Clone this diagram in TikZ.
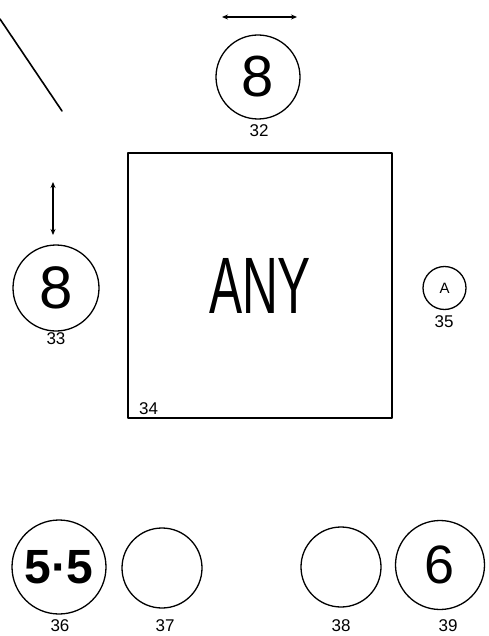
\documentclass[tikz,border=0pt]{standalone}
\usepackage{fontspec}
\setmainfont{Liberation Sans}
\newfontfamily\handfont[FakeStretch=0.62]{Liberation Sans}
\usetikzlibrary{arrows.meta}

\begin{document}
\begin{tikzpicture}[yscale=-1, x=1pt, y=1pt, line join=round, line cap=round]
% Colour and style definitions
\definecolor{ink}{rgb}{0,0,0}
\tikzset{
  seat/.style={draw=ink, circle, line width=1.3pt, inner sep=0pt},
  tag/.style={font=\fontsize{17}{17}\selectfont, text=ink, inner sep=0pt},
  move/.style={draw=ink, line width=1.5pt, {Stealth[length=6pt,width=5pt]}-{Stealth[length=6pt,width=5pt]}},
}
% End of definitions
\useasboundingbox (0,0) rectangle (489,636);
\draw[color=ink, line width=1.6pt] (0,19) -- (62,111);
% table
\node[draw=ink, line width=1.8pt, minimum width=264pt, minimum height=265pt, inner sep=0pt,
      font=\handfont\fontsize{80}{80}\selectfont] (area34) at (260,285.5) {ANY};
\node[tag, anchor=south west] (n34) at (139,415) {34};
% seats
\node[seat, minimum size=84pt, font=\fontsize{58}{58}\selectfont] (s32) at (258,77) {8};
\node[seat, minimum size=86pt, font=\fontsize{60}{60}\selectfont] (s33) at (56,288) {8};
\node[seat, minimum size=43pt, font=\fontsize{15}{15}\selectfont] (s35) at (444.5,288) {A};
\node[seat, minimum size=94pt, font=\fontsize{48}{48}\selectfont\bfseries] (s36) at (59,567) {5\textperiodcentered5};
\node[seat, minimum size=80pt] (s37) at (162,568) {};
\node[seat, minimum size=80pt] (s38) at (341,567) {};
\node[seat, minimum size=89pt, font=\fontsize{54}{54}\selectfont] (s39) at (440,565) {6};
% seat numbers
\node[tag] (n32) at (259,131) {32};
\node[tag] (n33) at (56,339) {33};
\node[tag] (n35) at (444,322) {35};
\node[tag] (n36) at (60,626) {36};
\node[tag] (n37) at (165,626) {37};
\node[tag] (n38) at (341,626) {38};
\node[tag] (n39) at (448,626) {39};
% movement arrows
\coordinate (w32) at (222,17);
\coordinate (e32) at (297,17);
\coordinate (n33a) at (53,182);
\coordinate (s33a) at (53,235);
\draw[move] (w32) -- (e32);
\draw[move] (n33a) -- (s33a);
\end{tikzpicture}
\end{document}
